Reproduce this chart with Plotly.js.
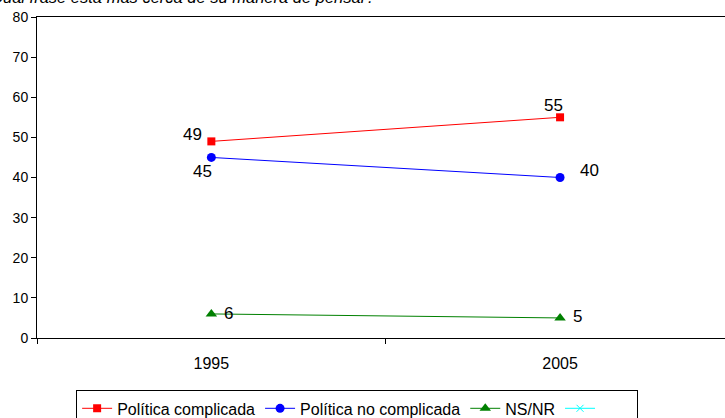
<!DOCTYPE html>
<html>
<head>
<meta charset="utf-8">
<script src="https://cdn.plot.ly/plotly-3.0.1.min.js"></script>
<style>html,body{margin:0;padding:0;background:#fff;}#chart{width:725px;height:418px;}</style>
</head>
<body>
<div id="chart"></div>
<script>
const years = ['1995', '2005'];
const complicada = [49, 55];
const noComplicada = [45, 40];
const nsnr = [6, 5];
const vacia = [null, null];
const seriesNames = ['Política complicada', 'Política no complicada', 'NS/NR', '\u00a0\u00a0\u00a0\u00a0\u00a0\u00a0\u00a0'];
const titleText = '¿Cuál frase está más cerca de su manera de pensar?';
const yTicks = [0, 10, 20, 30, 40, 50, 60, 70, 80];

const FONT = 'Liberation Sans, Arial, sans-serif';

const traces = [
  {x: years, y: complicada, name: seriesNames[0], mode: 'lines+markers', type: 'scatter',
   line: {color: '#FF0000', width: 1}, marker: {symbol: 'square', size: 8, color: '#FF0000'}},
  {x: years, y: noComplicada, name: seriesNames[1], mode: 'lines+markers', type: 'scatter',
   line: {color: '#0000FF', width: 1}, marker: {symbol: 'circle', size: 9, color: '#0000FF'}},
  {x: years, y: nsnr, name: seriesNames[2], mode: 'lines+markers', type: 'scatter',
   line: {color: '#008000', width: 1}, marker: {symbol: 'triangle-up', size: 10, color: '#008000'}},
  {x: years, y: vacia, name: seriesNames[3], mode: 'lines+markers', type: 'scatter',
   line: {color: '#00FFFF', width: 1}, marker: {symbol: 'x-thin', size: 7, line: {color: '#00FFFF', width: 1}, color: '#00FFFF'}}
];

// label offsets in pixels (style only)
const offsets = [
  [[-19, 7], [-7, 12]],
  [[-9, -14], [29, 7]],
  [[17, 0], [17, 1]]
];
const series = [complicada, noComplicada, nsnr];
const annotations = [];
series.forEach((s, si) => {
  s.forEach((v, i) => {
    annotations.push({x: i, y: v, xref: 'x', yref: 'y', text: String(v), showarrow: false,
      xshift: offsets[si][i][0], yshift: offsets[si][i][1], font: {family: FONT, size: 17, color: '#000'}});
  });
});
annotations.push({text: titleText, xref: 'paper', yref: 'paper', x: -0.085, y: 1.028,
  xanchor: 'left', yanchor: 'bottom', showarrow: false,
  font: {family: FONT, size: 16.5, color: '#000', style: 'italic'}});

const layout = {
  width: 725, height: 418,
  margin: {l: 37, r: 0, t: 17, b: 80},
  paper_bgcolor: '#fff', plot_bgcolor: '#fff',
  font: {family: FONT, size: 14, color: '#000'},
  showlegend: true,
  legend: {orientation: 'h', xref: 'container', yref: 'container', x: 0.105, y: 0.066,
    xanchor: 'left', yanchor: 'top',
    bordercolor: '#000', borderwidth: 1, font: {family: FONT, size: 16, color: '#000'},
    traceorder: 'normal', itemwidth: 30, tracegroupgap: 0},
  xaxis: {type: 'category', range: [-0.5, 1.473], showgrid: false, zeroline: false,
    showline: true, linecolor: '#000', linewidth: 1, mirror: true,
    ticks: 'outside', tickson: 'boundaries', ticklen: 5, tickcolor: '#000',
    tickfont: {family: FONT, size: 16, color: '#000'}, ticklabelstandoff: 11, fixedrange: true},
  yaxis: {range: [0, 80], tickvals: yTicks, showgrid: false, zeroline: false,
    showline: true, linecolor: '#000', linewidth: 1,
    ticks: 'outside', ticklen: 5, tickcolor: '#000',
    tickfont: {family: FONT, size: 14, color: '#000'}, fixedrange: true},
  annotations: annotations
};

Plotly.newPlot('chart', traces, layout, {displayModeBar: false, staticPlot: true});
</script>
</body>
</html>
